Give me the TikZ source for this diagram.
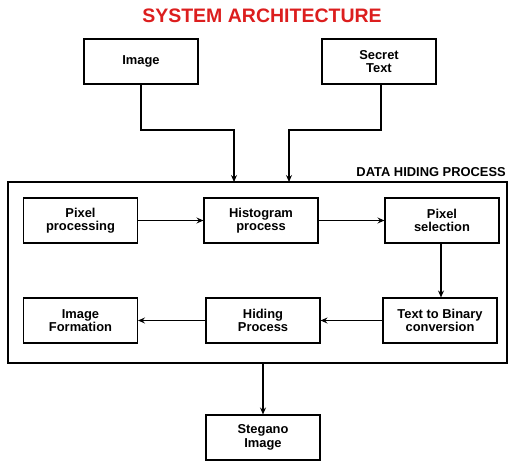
\documentclass[tikz,border=0pt]{standalone}
\usepackage{fontspec}
\setmainfont{Liberation Sans}
\usetikzlibrary{arrows.meta}
\definecolor{titlered}{RGB}{220,30,30}
\tikzset{
  box/.style={draw, line width=1.1pt, minimum width=114pt, minimum height=45pt, inner sep=1pt,
    align=center, font=\fontsize{12.9}{13.5}\selectfont\bfseries},
  arr/.style={line width=1.1pt, -{Stealth[length=7pt,width=6pt,inset=2.5pt]}},
  frame/.style={draw, line width=1.1pt, minimum width=499pt, minimum height=181pt, inner sep=0pt}
}
\begin{document}
\begin{tikzpicture}[x=1pt,y=-1pt]
\useasboundingbox (0,0) rectangle (508,462);
\node[text=titlered, font=\fontsize{19.5}{21}\selectfont\bfseries] (title) at (262,16) {SYSTEM ARCHITECTURE};
\node[box] (img) at (141,61.5) {Image};
\node[box] (sec) at (379,61.5) {Secret\\Text};
\node[frame] (fr) at (257.5,272.5) {};
\node[anchor=south east, inner sep=0pt, font=\fontsize{12.9}{14}\selectfont\bfseries] (dhp) at (506,177) {DATA HIDING PROCESS};
\node[box] (pp) at (80.5,220.5) {Pixel\\processing};
\node[box] (hp) at (261,220.5) {Histogram\\process};
\node[box] (ps) at (442,220.5) {Pixel\\selection};
\node[box] (tb) at (440,320.5) {Text to Binary\\conversion};
\node[box] (hd) at (263,320.5) {Hiding\\Process};
\node[box] (imf) at (80.5,320.5) {Image\\Formation};
\node[box] (st) at (263,437.5) {Stegano\\Image};
\coordinate (m1) at (141,130);
\coordinate (j1) at (234,182);
\coordinate (m2) at (381,130);
\coordinate (j2) at (289,182);
\draw[arr] (img.south) -- (m1) -| (j1);
\draw[arr] (sec.south -| m2) -- (m2) -| (j2);
\draw[arr] (pp) -- (hp);
\draw[arr] (hp) -- (ps);
\draw[arr] (ps.south -| 441,0) -- (tb.north -| 441,0);
\draw[arr] (tb) -- (hd);
\draw[arr] (hd) -- (imf);
\draw[arr] (st |- fr.south) -- (st.north);
\end{tikzpicture}
\end{document}
